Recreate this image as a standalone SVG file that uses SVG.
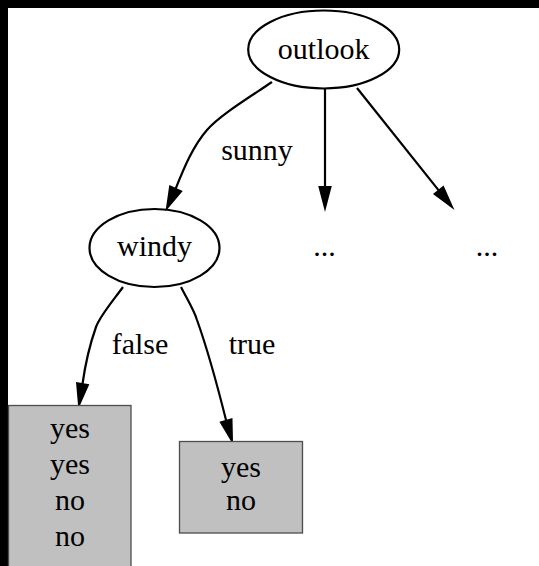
<svg xmlns="http://www.w3.org/2000/svg" width="539" height="566" viewBox="0 0 539 566">
<style>
text{font-family:"Liberation Serif","Times New Roman",serif;font-size:30px;fill:#000;text-anchor:middle}
.node ellipse{fill:none;stroke:#000;stroke-width:2.2}
.leaf rect{fill:#c0c0c0;stroke:#4d4d4d;stroke-width:1.3}
.edge path{fill:none;stroke:#000;stroke-width:2.2}
.edge polygon{fill:#000;stroke:#000;stroke-width:2}
</style>
<rect x="0" y="0" width="539" height="566" fill="#000"/>
<rect x="8" y="8" width="531" height="558" fill="#fff"/>
<g id="edges">
<g class="edge" id="e_outlook_windy">
<path d="M272,82 C250,97 220,115 207,130 C193,146 184,168 175.6,188.9"/>
<polygon points="167,208 181.1,191.4 170.1,186.4"/>
<text x="257" y="160">sunny</text>
</g>
<g class="edge" id="e_outlook_mid">
<path d="M325,89 L325,187"/>
<polygon points="325,208 319.5,187 330.5,187"/>
</g>
<g class="edge" id="e_outlook_right">
<path d="M357,88 L438.9,190.6"/>
<polygon points="452,207 443.2,187.2 434.6,194"/>
</g>
<g class="edge" id="e_windy_false">
<path d="M123,287 C112,302 100,316 96,327 C90,344 85,366 82.5,384"/>
<polygon points="79,405 87.9,384.9 77.1,383.1"/>
<text x="140" y="354">false</text>
</g>
<g class="edge" id="e_windy_true">
<path d="M181,287 C187,299 194,310 197,320 C206,345 219,392 226.2,420.8"/>
<polygon points="232,441 231.5,419.3 220.9,422.3"/>
<text x="252" y="354">true</text>
</g>
</g>
<g class="node" id="outlook">
<ellipse cx="323.7" cy="49.5" rx="75.5" ry="39"/>
<text x="323.7" y="58.5">outlook</text>
</g>
<g class="node" id="windy">
<ellipse cx="154.5" cy="248" rx="65" ry="39"/>
<text x="154.5" y="256">windy</text>
</g>
<g class="node" id="dots1">
<text x="324.5" y="256">...</text>
</g>
<g class="node" id="dots2">
<text x="487" y="256">...</text>
</g>
<g class="leaf" id="leaf1">
<rect x="8.5" y="405.5" width="122.5" height="172"/>
<text x="70" y="438">yes</text>
<text x="70" y="474">yes</text>
<text x="70" y="510">no</text>
<text x="70" y="546">no</text>
</g>
<g class="leaf" id="leaf2">
<rect x="179.5" y="441.5" width="123" height="91.5"/>
<text x="241" y="477">yes</text>
<text x="241" y="510">no</text>
</g>
</svg>
